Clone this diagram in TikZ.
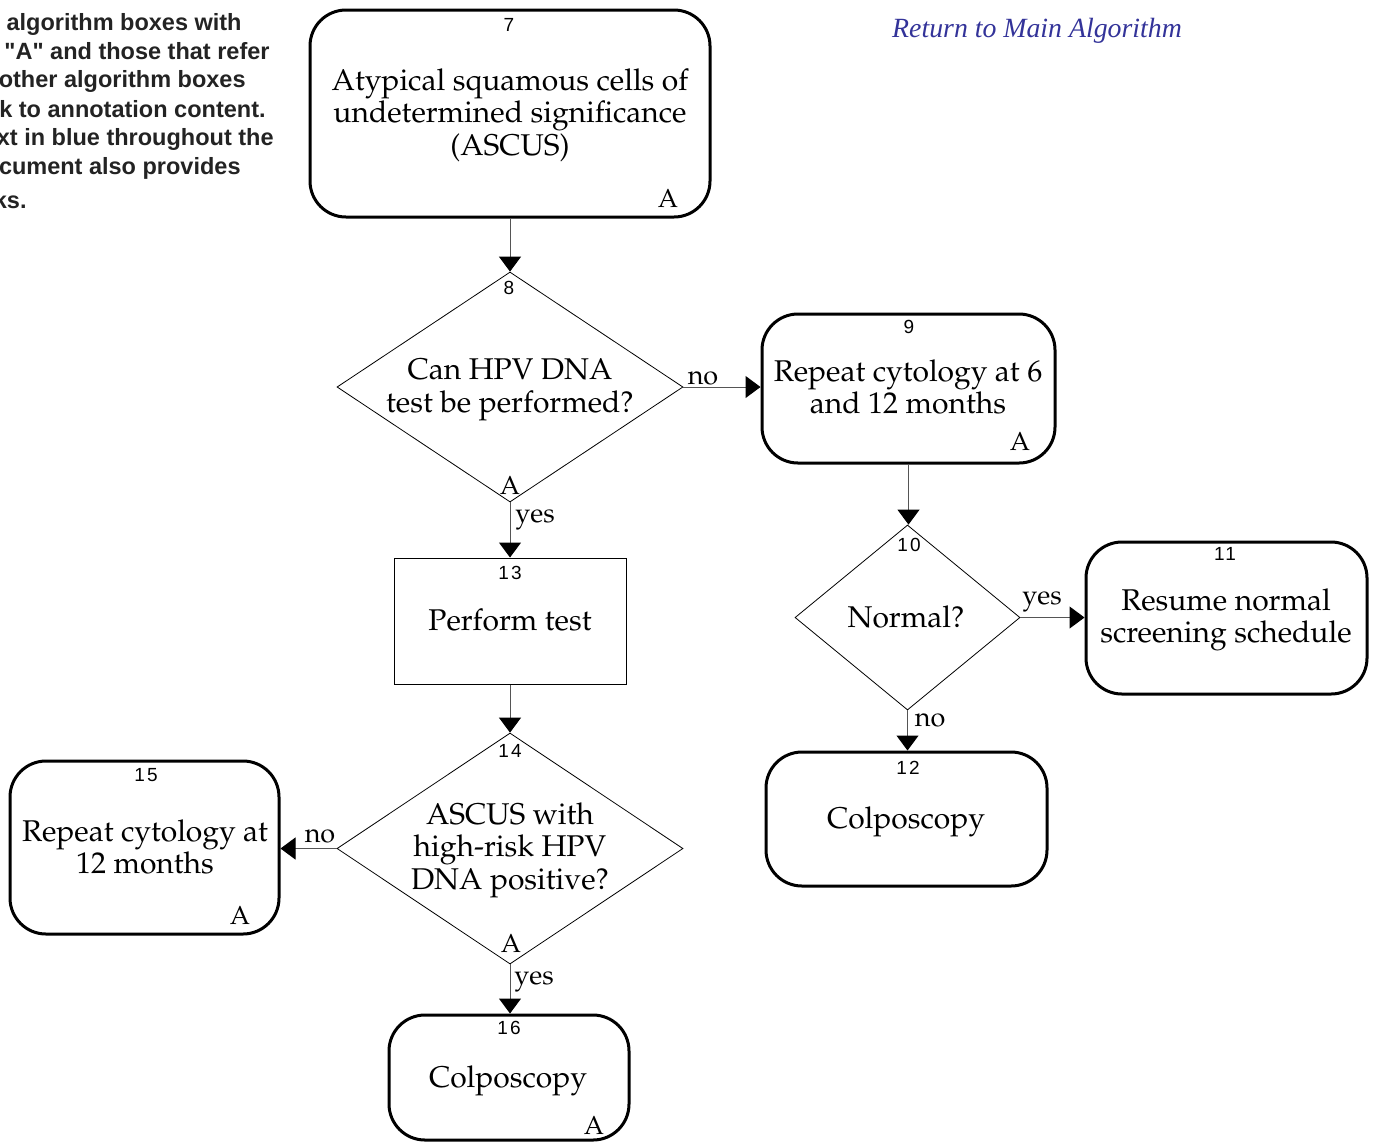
\documentclass[tikz,border=0pt]{standalone}
\usepackage[T1]{fontenc}
\usepackage{fontspec}
\usetikzlibrary{shapes.geometric,arrows.meta}
\newfontfamily\sansf{Liberation Sans}
\newfontfamily\numf[LetterSpace=12]{Liberation Sans}
\newfontfamily\timesf{Liberation Serif}
\newcommand\palf{\fontencoding{T1}\fontfamily{ppl}\selectfont}
\definecolor{linkblue}{RGB}{51,51,153}
\definecolor{conn}{RGB}{85,85,85}
\begin{document}
\begin{tikzpicture}[x=0.5pt,y=-0.5pt,
  rbox/.style={draw,line width=1.5pt,rounded corners=18pt,inner sep=0pt},
  pbox/.style={draw,line width=0.5pt,inner sep=0pt},
  dia/.style={draw,diamond,line width=0.4pt,inner sep=0pt,aspect=1.5},
  body/.style={font=\palf\fontsize{15pt}{16.25pt}\selectfont,align=center,inner sep=0pt},
  num/.style={font=\numf\fontsize{9.5pt}{10pt}\selectfont,inner sep=0pt},
  amark/.style={font=\palf\fontsize{13pt}{14pt}\selectfont,inner sep=0pt},
  lab/.style={font=\palf\fontsize{13.5pt}{14pt}\selectfont,inner sep=0pt},
  note/.style={font=\sansf\bfseries\fontsize{11.75pt}{14pt}\selectfont,text={rgb,255:red,35;green,35;blue,35},inner sep=0pt,anchor=east},
  conn/.style={draw=conn,line width=0.5pt,-{Triangle[width=11pt,length=7.5pt,color=black]}}
]
\useasboundingbox (0,0) rectangle (1374,1142);
\begin{scope}
\clip (0,0) rectangle (1374,1142);
% notes top-left
\node[note] (n1) at (242,24) {algorithm boxes with};
\node[note] (n2) at (270,51) {"A" and those that refer};
\node[note] (n3) at (246,81) {other algorithm boxes};
\node[note] (n4) at (266,109) {k to annotation content.};
\node[note] (n5) at (274,139) {xt in blue throughout the};
\node[note] (n6) at (241,168) {cument also provides};
\node[note] (n7) at (27,200) {ks.};
\node[font=\timesf\itshape\fontsize{13.9pt}{15pt}\selectfont,text=linkblue,inner sep=0pt] (ret) at (1037,31) {Return to Main Algorithm};

% shapes
\node[rbox,minimum width=200pt,minimum height=103.5pt] (b7) at (510,113.5) {};
\node[dia,minimum width=173pt,minimum height=115pt] (d8) at (510,387) {};
\node[rbox,minimum width=146.5pt,minimum height=74.5pt] (b9) at (908.5,388.5) {};
\node[dia,minimum width=112.5pt,minimum height=92.5pt] (d10) at (907.5,617.5) {};
\node[rbox,minimum width=140.5pt,minimum height=76pt] (b11) at (1226.5,618) {};
\node[rbox,minimum width=140.5pt,minimum height=67pt] (b12) at (906.5,819) {};
\node[pbox,minimum width=116pt,minimum height=63pt] (b13) at (510,621) {};
\node[dia,minimum width=173pt,minimum height=115.5pt] (d14) at (510,848.5) {};
\node[rbox,minimum width=134.5pt,minimum height=86.5pt] (b15) at (144.5,847.5) {};
\node[rbox,minimum width=120pt,minimum height=62.5pt] (b16) at (509,1077.5) {};

% texts
\node[num] (t7n) at (509,25) {7};
\node[body] (t7) at (510,115) {Atypical squamous cells of\\undetermined significance\\(ASCUS)};
\node[amark] (t7a) at (668,199) {A};

\node[num] (t8n) at (509,288) {8};
\node[body] (t8) at (510,390) {Can HPV DNA\\test be performed?};
\node[amark] (t8a) at (510,486) {A};

\node[num] (t9n) at (909,327) {9};
\node[body] (t9) at (908,387) {Repeat cytology at 6\\and 12 months};
\node[amark] (t9a) at (1020,442) {A};

\node[num] (t10n) at (909,545) {10};
\node[body] (t10) at (906,617) {Normal?};

\node[num] (t11n) at (1225,554) {11};
\node[body] (t11) at (1226,620) {Resume normal\\screening schedule};

\node[num] (t12n) at (908,768) {12};
\node[body] (t12) at (906,822) {Colposcopy};

\node[num] (t13n) at (510,573) {13};
\node[body] (t13) at (510,620) {Perform test};

\node[num] (t14n) at (510,751) {14};
\node[body] (t14) at (510,850) {ASCUS with\\high-risk HPV\\DNA positive?};
\node[amark] (t14a) at (511,944) {A};

\node[num] (t15n) at (146,775) {15};
\node[body] (t15) at (145,847) {Repeat cytology at\\12 months};
\node[amark] (t15a) at (240,916) {A};

\node[num] (t16n) at (509,1028) {16};
\node[body] (t16) at (508,1081) {Colposcopy};
\node[amark] (t16a) at (594,1126) {A};

% connectors
\draw[conn] (b7.south) -- (d8.north);
\draw[conn] (d8.east) -- (d8.east -| b9.west);
\draw[conn] (b9.south) -- (b9.south |- d10.north);
\draw[conn] (d10.east) -- (d10.east -| b11.west);
\draw[conn] (d10.south) -- (d10.south |- b12.north);
\draw[conn] (d8.south) -- (b13.north);
\draw[conn] (b13.south) -- (d14.north);
\draw[conn] (d14.west) -- (d14.west -| b15.east);
\draw[conn] (d14.south) -- (d14.south |- b16.north);

% connector labels
\node[lab] (l1) at (703,378) {no};
\node[lab] (l2) at (1042,602) {yes};
\node[lab] (l3) at (930,720) {no};
\node[lab] (l4) at (535,520) {yes};
\node[lab] (l5) at (320,836) {no};
\node[lab] (l6) at (534,982) {yes};
\end{scope}
\end{tikzpicture}
\end{document}
